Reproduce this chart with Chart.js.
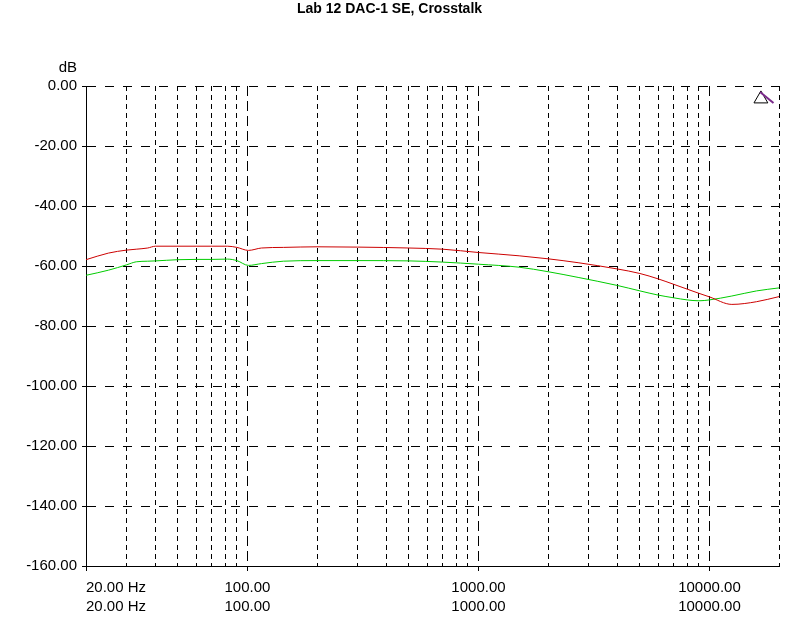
<!DOCTYPE html>
<html>
<head>
<meta charset="utf-8">
<title>Lab 12 DAC-1 SE, Crosstalk</title>
<script src="https://cdn.jsdelivr.net/npm/chart.js@4.4.1/dist/chart.umd.min.js"></script>
<style>
  html, body { margin: 0; padding: 0; background: #fff; }
  #wrap { width: 800px; height: 640px; }
</style>
</head>
<body>
<div id="wrap"><canvas id="crosstalk" width="800" height="640"></canvas></div>
<script>
// Mätpunkter (Hz) och nivåer (dB)
const freqs = [20, 25, 30, 33, 37, 40, 50, 60, 70, 82, 90, 101, 115, 143, 200, 300, 500, 700,
               1000, 1500, 2000, 2700, 4000, 5000, 6000, 7000, 8000, 9000, 10000, 12500, 16000, 20000];
const redDb = [-57.9, -55.7, -54.7, -54.4, -54.0, -53.4, -53.4, -53.4, -53.4, -53.4, -53.8, -54.8, -54.0, -53.8, -53.6, -53.7, -54.0, -54.4,
               -55.5, -56.6, -57.6, -58.9, -61.0, -62.5, -64.3, -66.1, -67.7, -69.1, -70.3, -72.8, -71.9, -70.2];
const greenDb = [-63.1, -61.4, -59.6, -58.6, -58.4, -58.3, -57.9, -57.8, -57.8, -57.7, -58.2, -59.8, -59.2, -58.4, -58.2, -58.2, -58.3, -58.7,
                 -59.4, -60.4, -61.9, -63.8, -66.5, -68.3, -69.7, -70.6, -71.3, -71.6, -71.3, -70.0, -68.3, -67.3];

// Markör uppe till höger (triangel + lila streck)
const markerFreq = [16700];
const markerDb = [-4.3];
const cursorFreq = [16560, 18930];
const cursorDb = [-2, -5.7];

// Rutnät och axeletiketter
const xGrid = [20, 30, 40, 50, 60, 70, 80, 90, 100, 200, 300, 400, 500, 600, 700, 800, 900,
               1000, 2000, 3000, 4000, 5000, 6000, 7000, 8000, 9000, 10000, 20000];
const xDecades = [100, 1000, 10000];
const xLabelValues = [20, 100, 1000, 10000];
const xLabelTexts = ['20.00 Hz', '100.00', '1000.00', '10000.00'];
const yMin = -160, yMax = 0, yStep = 20;

const FONT = "'Liberation Sans', Arial, sans-serif";

// Liten plugin som skriver "dB" ovanför y-axeln
const dbLabel = {
    id: 'dbLabel',
    afterDraw(chart) {
        const {ctx, chartArea} = chart;
        ctx.save();
        ctx.font = '15px ' + FONT;
        ctx.fillStyle = '#000';
        ctx.textAlign = 'right';
        ctx.textBaseline = 'middle';
        ctx.fillText('dB', chartArea.left - 9, chartArea.top - 18);
        ctx.restore();
    }
};

const ctx = document.getElementById('crosstalk').getContext('2d');
new Chart(ctx, {
    type: 'line',
    data: {
        datasets: [
            {
                label: 'Ch 1',
                data: freqs.map((f, i) => ({x: f, y: redDb[i]})),
                borderColor: '#cc0000',
                borderWidth: 1,
                pointRadius: 0,
                cubicInterpolationMode: 'monotone'
            },
            {
                label: 'Ch 2',
                data: freqs.map((f, i) => ({x: f, y: greenDb[i]})),
                borderColor: '#00cc00',
                borderWidth: 1,
                pointRadius: 0,
                cubicInterpolationMode: 'monotone'
            },
            {
                label: 'cursor',
                data: cursorFreq.map((f, i) => ({x: f, y: cursorDb[i]})),
                borderColor: '#7a2a8a',
                borderWidth: 2,
                pointRadius: 0
            },
            {
                label: 'marker',
                data: markerFreq.map((f, i) => ({x: f, y: markerDb[i]})),
                showLine: false,
                pointStyle: 'triangle',
                pointRadius: 8,
                pointBorderColor: '#000',
                pointBackgroundColor: 'rgba(255,255,255,0)',
                pointBorderWidth: 1
            }
        ]
    },
    options: {
        responsive: false,
        animation: false,
        devicePixelRatio: 1,
        layout: { padding: { left: 0, right: 21, top: 0, bottom: 0 } },
        plugins: {
            legend: { display: false },
            tooltip: { enabled: false },
            title: {
                display: true,
                text: 'Lab 12 DAC-1 SE, Crosstalk',
                color: '#000',
                font: { family: FONT, size: 14, weight: 'bold', lineHeight: 1.2 },
                padding: { top: 1, bottom: 68.2 }
            }
        },
        scales: {
            x: {
                type: 'logarithmic',
                min: 20,
                max: 20000,
                afterBuildTicks: scale => {
                    scale.ticks = xGrid.map(v => ({value: v}));
                },
                afterFit: scale => { scale.height = 74; },
                ticks: {
                    autoSkip: false,
                    maxRotation: 0,
                    align: 'inner',
                    padding: 7,
                    color: '#000',
                    font: { family: FONT, size: 15, lineHeight: 1.3 },
                    callback: value => {
                        const i = xLabelValues.indexOf(value);
                        return i < 0 ? '' : [xLabelTexts[i], xLabelTexts[i]];
                    }
                },
                grid: {
                    color: '#000',
                    lineWidth: 1,
                    tickLength: 5,
                    tickColor: c => (c.tick && (xDecades.includes(c.tick.value) || c.tick.value === 20)) ? '#000' : 'rgba(0,0,0,0)',
                    tickBorderDash: []
                },
                border: {
                    display: true,
                    color: '#000',
                    width: 1,
                    dash: c => (c.tick && xDecades.includes(c.tick.value)) ? [10, 5] : [5, 4]
                }
            },
            y: {
                type: 'linear',
                min: yMin,
                max: yMax,
                afterFit: scale => { scale.width = 86; },
                ticks: {
                    stepSize: yStep,
                    padding: 5,
                    color: '#000',
                    font: { family: FONT, size: 15 },
                    callback: v => v.toFixed(2)
                },
                grid: {
                    color: '#000',
                    lineWidth: 1,
                    tickLength: 4,
                    tickColor: '#000',
                    tickBorderDash: []
                },
                border: {
                    display: true,
                    color: '#000',
                    width: 1,
                    dash: [9, 9]
                }
            }
        }
    },
    plugins: [dbLabel]
});
</script>
</body>
</html>
